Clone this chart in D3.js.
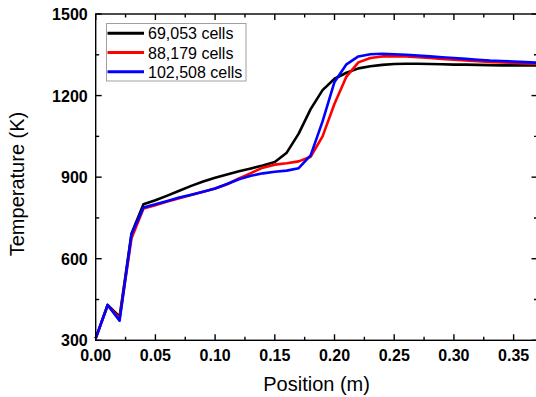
<!DOCTYPE html>
<html>
<head>
<meta charset="utf-8">
<style>
  body { margin: 0; background: #fff; }
  svg { display: block; font-family: Arial, 'Liberation Sans', sans-serif; }
  .tick-label { font-size: 16px; font-weight: bold; fill: #000; }
  .axis-title { font-size: 20px; fill: #000; }
  .legend-text { font-size: 16px; fill: #000; }
</style>
</head>
<body>
<svg width="536" height="397"></svg>
<script src="https://d3js.org/d3.v7.min.js"></script>
<script>
// positions along the domain (m)
const positions = [0, 0.01, 0.02, 0.03, 0.04, 0.05, 0.06, 0.07, 0.08, 0.09,
  0.10, 0.11, 0.12, 0.13, 0.14, 0.15, 0.16, 0.17, 0.18, 0.19,
  0.20, 0.21, 0.22, 0.23, 0.24, 0.25, 0.26, 0.27, 0.28, 0.29,
  0.30, 0.31, 0.32, 0.33, 0.34, 0.35, 0.36, 0.37];

const temp69k = [307, 430, 387, 693, 800, 815, 832, 850, 868, 884,
  898, 910, 922, 932, 943, 956, 990, 1060, 1150, 1220,
  1262, 1284, 1300, 1308, 1313, 1316, 1317, 1317, 1316, 1315,
  1314, 1314, 1313, 1312, 1311, 1311, 1311, 1311];

const temp88k = [307, 428, 380, 675, 785, 797, 810, 822, 834, 846,
  858, 874, 895, 915, 935, 946, 951, 958, 975, 1050,
  1170, 1270, 1322, 1338, 1344, 1345, 1344, 1341, 1338, 1335,
  1332, 1329, 1326, 1324, 1322, 1320, 1318, 1317];

const temp102k = [307, 430, 372, 690, 788, 800, 812, 825, 835, 846,
  858, 875, 892, 905, 914, 920, 924, 933, 980, 1105,
  1250, 1315, 1344, 1352, 1354, 1352, 1350, 1347, 1344, 1341,
  1338, 1335, 1332, 1329, 1327, 1325, 1323, 1321];

const seriesNames = ["69,053 cells", "88,179 cells", "102,508 cells"];
const seriesColors = ["#000000", "#ff0000", "#0000ff"];

const xTicks = [0, 0.05, 0.10, 0.15, 0.20, 0.25, 0.30, 0.35];
const yTicks = [300, 600, 900, 1200, 1500];

const svg = d3.select("svg");
const plot = { left: 95.7, right: 537.5, top: 14, bottom: 340.3 };

const x = d3.scaleLinear().domain([0, 0.37]).range([plot.left, plot.right]);
const y = d3.scaleLinear().domain([300, 1500]).range([plot.bottom, plot.top]);

const allSeries = [temp69k, temp88k, temp102k].map((vals, i) => ({
  name: seriesNames[i],
  color: seriesColors[i],
  values: positions.map((p, j) => ({ x: p, t: vals[j] }))
}));

// data lines
const line = d3.line().x(d => x(d.x)).y(d => y(d.t));
svg.append("g").selectAll("path")
  .data(allSeries)
  .join("path")
  .attr("fill", "none")
  .attr("stroke", d => d.color)
  .attr("stroke-width", 2.6)
  .attr("stroke-linejoin", "round")
  .attr("d", d => line(d.values));

// frame
svg.append("rect")
  .attr("x", plot.left).attr("y", plot.top)
  .attr("width", plot.right - plot.left).attr("height", plot.bottom - plot.top)
  .attr("fill", "none").attr("stroke", "#000").attr("stroke-width", 1.4);

// ticks: major + minor, inward on all four sides
const xMinor = d3.range(0.025, 0.37, 0.05);
const yMinor = d3.range(450, 1500, 300);
const tickG = svg.append("g").attr("stroke", "#000").attr("stroke-width", 1.4);

function xTick(v, len) {
  tickG.append("line").attr("x1", x(v)).attr("x2", x(v)).attr("y1", plot.bottom).attr("y2", plot.bottom - len);
  tickG.append("line").attr("x1", x(v)).attr("x2", x(v)).attr("y1", plot.top).attr("y2", plot.top + len);
}
function yTick(v, len) {
  tickG.append("line").attr("y1", y(v)).attr("y2", y(v)).attr("x1", plot.left).attr("x2", plot.left + len);
  tickG.append("line").attr("y1", y(v)).attr("y2", y(v)).attr("x1", plot.right).attr("x2", plot.right - len);
}
xTicks.forEach(v => xTick(v, 6));
xMinor.forEach(v => xTick(v, 3.5));
yTicks.forEach(v => yTick(v, 6));
yMinor.forEach(v => yTick(v, 3.5));

// tick labels
svg.append("g").selectAll("text")
  .data(xTicks)
  .join("text")
  .attr("class", "tick-label")
  .attr("x", d => x(d))
  .attr("y", plot.bottom + 21)
  .attr("text-anchor", "middle")
  .text(d3.format(".2f"));

svg.append("g").selectAll("text")
  .data(yTicks)
  .join("text")
  .attr("class", "tick-label")
  .attr("x", plot.left - 8)
  .attr("y", d => y(d) + 6)
  .attr("text-anchor", "end")
  .text(d => d);

// axis titles
svg.append("text")
  .attr("class", "axis-title")
  .attr("x", (plot.left + plot.right) / 2)
  .attr("y", 391)
  .attr("text-anchor", "middle")
  .text("Position (m)");

svg.append("text")
  .attr("class", "axis-title")
  .attr("transform", "translate(24,184) rotate(-90)")
  .attr("text-anchor", "middle")
  .text("Temperature (K)");

// legend
const legend = svg.append("g");
legend.append("rect")
  .attr("x", 106.5).attr("y", 23.5)
  .attr("width", 139.5).attr("height", 57.5)
  .attr("fill", "#fff").attr("stroke", "#a0a0a0").attr("stroke-width", 1);

const rows = legend.selectAll("g.row")
  .data(allSeries)
  .join("g")
  .attr("class", "row")
  .attr("transform", (d, i) => `translate(0,${33.3 + i * 19.2})`);
rows.append("line")
  .attr("x1", 107.5).attr("x2", 144)
  .attr("stroke", d => d.color).attr("stroke-width", 3);
rows.append("text")
  .attr("class", "legend-text")
  .attr("x", 148).attr("y", 6)
  .text(d => d.name);
</script>
</body>
</html>
